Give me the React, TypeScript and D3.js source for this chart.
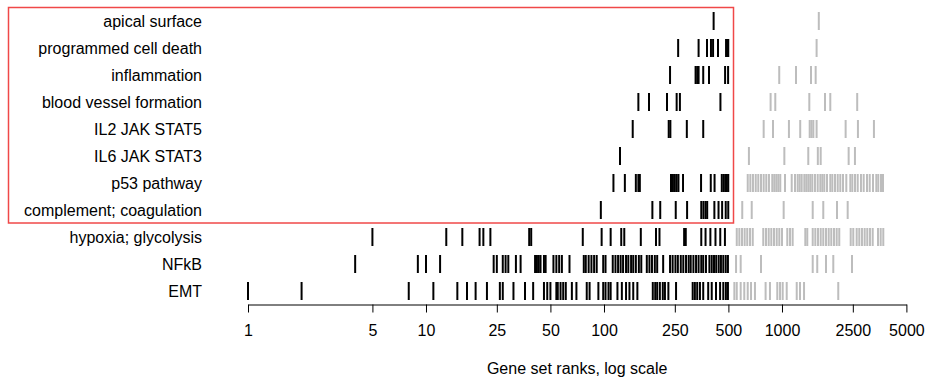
import * as d3 from 'd3';
import { useRef, useEffect } from 'react';

// gene set names, top to bottom
const geneSets = [
  'apical surface',
  'programmed cell death',
  'inflammation',
  'blood vessel formation',
  'IL2 JAK STAT5',
  'IL6 JAK STAT3',
  'p53 pathway',
  'complement; coagulation',
  'hypoxia; glycolysis',
  'NFkB',
  'EMT'
];

// ranks of the genes in each set
const apicalSurface = [413, 1610];
const programmedCellDeath = [261, 340, 379, 399, 410, 437, 485, 492, 499, 1565];
const inflammation = [235, 327, 334, 340, 361, 389, 479, 498, 965, 1199, 1455, 1546];
const bloodVessel = [156, 179, 226, 256, 267, 451, 863, 917, 1424, 1744, 1868, 2646];
const il2JakStat5 = [145, 231, 236, 292, 361, 789, 890, 1094, 1266, 1431, 1465, 1500, 1565, 2278, 2671, 3285];
const il6JakStat3 = [123, 652, 1031, 1405, 1590, 1650, 2369, 2570];
const p53Pathway = [
  113, 131, 151, 156, 159, 238, 244, 250, 256, 262, 278, 351, 398, 418, 459, 470, 480, 490, 499,
  642, 664, 687, 712, 736, 762, 789, 816, 845, 882, 905, 929, 953, 978, 1040, 1134, 1183, 1225,
  1257, 1290, 1335, 1369, 1405, 1442, 1480, 1532, 1587, 1642, 1685, 1729, 1790, 1868, 1918, 1986,
  2056, 2126, 2202, 2298, 2420, 2484, 2571, 2663, 2778, 2877, 3003, 3110, 3246, 3388, 3476, 3599, 3694
];
const complementCoagulation = [96, 187, 207, 253, 293, 352, 362, 372, 380, 417, 440, 461, 483, 499,
  598, 676, 1022, 1488, 1706, 2037, 2339];
const hypoxiaGlycolysis = [
  5, 13, 16, 20, 21, 23, 38, 39, 76, 97, 109, 125, 130, 161, 196, 205, 282, 288, 352, 372, 396, 423, 450, 478,
  557, 576, 596, 617, 638, 661, 685, 785, 813, 842, 871, 902, 934, 966, 1000, 1071, 1109, 1148, 1352, 1387,
  1488, 1539, 1593, 1650, 1706, 1767, 1830, 1892, 1960, 2029, 2098, 2432, 2515, 2628, 2718, 2814, 2914,
  3014, 3121, 3233, 3462, 3585, 3708
];
const nfkb = [
  4, 9, 10, 12, 24, 25, 27, 28, 29, 32, 34, 41, 42, 43, 44, 46, 47, 52, 54, 56, 58, 64, 77, 79, 82, 85, 88,
  91, 99, 102, 112, 116, 120, 124, 128, 133, 137, 142, 146, 151, 157, 162, 174, 180, 186, 193, 199, 215,
  235, 243, 252, 260, 270, 279, 289, 299, 307, 318, 329, 340, 352, 361, 374, 391, 403, 415, 427, 441, 454,
  468, 483, 497, 552, 586, 762, 1488, 1578, 1767, 1942, 2473
];
const emt = [
  1, 2, 8, 11, 15, 17, 19, 22, 26, 27, 31, 36, 40, 46, 48, 50, 54, 55, 57, 59, 61, 66, 70, 80, 83, 93, 99,
  102, 106, 109, 119, 126, 133, 139, 146, 154, 188, 194, 199, 206, 214, 220, 230, 254, 315, 324, 334, 346,
  361, 385, 403, 426, 449, 468, 484, 497, 540, 557, 586, 614, 642, 670, 705, 809, 856, 941, 975, 1009,
  1063, 1210, 1262, 1330, 2071
];

const ranksBySet = [
  apicalSurface, programmedCellDeath, inflammation, bloodVessel, il2JakStat5, il6JakStat3,
  p53Pathway, complementCoagulation, hypoxiaGlycolysis, nfkb, emt
];

const tickValues = [1, 5, 10, 25, 50, 100, 250, 500, 1000, 2500, 5000];
const cutoff = 500;
const highlighted = 8; // first 8 sets sit inside the red box

export default function App() {
  const ref = useRef<SVGSVGElement>(null);

  useEffect(() => {
    const width = 928;
    const height = 382;
    const font = 'Liberation Sans, Arial, Helvetica, sans-serif';

    const svg = d3.select(ref.current)
      .attr('width', width)
      .attr('height', height);
    svg.selectAll('*').remove();

    const x = d3.scaleLog().domain([1, 5000]).range([248, 906.4]);
    const y = d3.scaleBand().domain(geneSets).range([7.5, 304.5]);
    const barHalf = 9;

    // one row of ticks per gene set
    const rows = svg.selectAll('g.row')
      .data(geneSets)
      .enter()
      .append('g')
      .attr('class', 'row');

    rows.selectAll('line')
      .data((d, i) => ranksBySet[i].map(r => ({ set: d, rank: r })))
      .enter()
      .append('line')
      .attr('x1', d => x(d.rank))
      .attr('x2', d => x(d.rank))
      .attr('y1', d => y(d.set)! + y.bandwidth() / 2 - barHalf)
      .attr('y2', d => y(d.set)! + y.bandwidth() / 2 + barHalf)
      .attr('stroke', d => (d.rank <= cutoff ? 'black' : '#bdbdbd'))
      .attr('stroke-width', 2);

    // gene set labels
    svg.selectAll('text.label')
      .data(geneSets)
      .enter()
      .append('text')
      .attr('class', 'label')
      .attr('x', 202)
      .attr('y', d => y(d)! + y.bandwidth() / 2)
      .attr('dy', '0.35em')
      .attr('text-anchor', 'end')
      .style('font-family', font)
      .style('font-size', '16px')
      .text(d => d);

    // highlight box
    const top = geneSets[0];
    const last = geneSets[highlighted - 1];
    svg.append('rect')
      .attr('x', 8.5)
      .attr('y', y(top)!)
      .attr('width', 725)
      .attr('height', y(last)! + y.bandwidth() - y(top)! - 0.5)
      .attr('fill', 'none')
      .attr('stroke', '#f04848')
      .attr('stroke-width', 1.5);

    // x axis
    const axis = svg.append('g')
      .attr('transform', `translate(0, 304.5)`)
      .call(
        d3.axisBottom(x)
          .tickValues(tickValues)
          .tickFormat(d3.format('d'))
          .tickSizeInner(8)
          .tickSizeOuter(0)
          .tickPadding(12)
      );
    axis.select('.domain').attr('stroke', 'black');
    axis.selectAll('.tick line').attr('stroke', 'black');
    axis.selectAll('.tick text')
      .attr('fill', 'black')
      .style('font-family', font)
      .style('font-size', '16px');

    svg.append('text')
      .attr('x', (x(1) + x(5000)) / 2)
      .attr('y', 374)
      .attr('text-anchor', 'middle')
      .style('font-family', font)
      .style('font-size', '16px')
      .text('Gene set ranks, log scale');
  }, []);

  return (
    <svg ref={ref} style={{ position: 'absolute', left: 0, top: 0, background: 'white' }}></svg>
  );
}
